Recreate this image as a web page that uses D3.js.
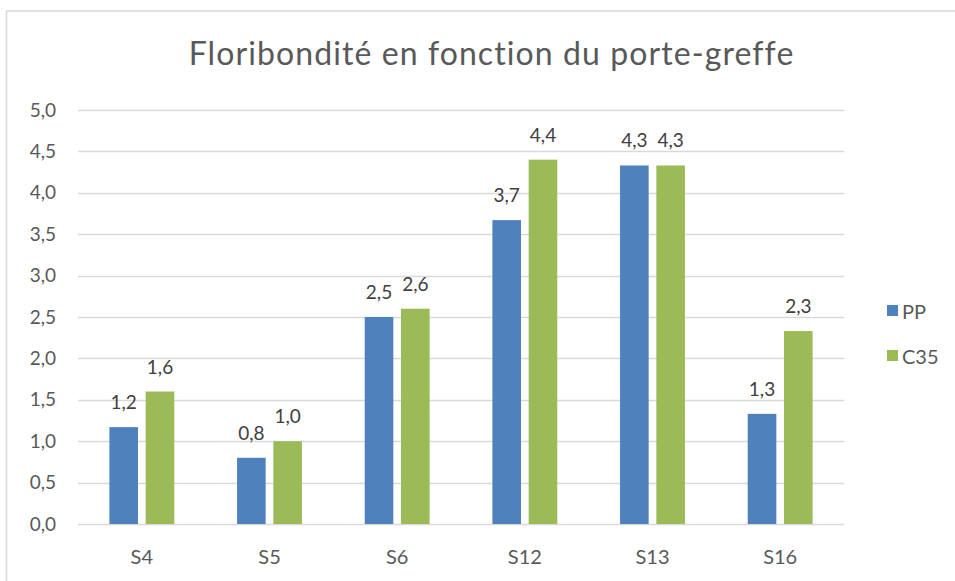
<!DOCTYPE html>
<html><head><meta charset="utf-8">
<script src="https://cdn.jsdelivr.net/npm/d3@7"></script>
<style>
html,body{margin:0;padding:0;background:#fff;}
svg{display:block;font-family:Lato,"Open Sans",sans-serif;}
</style></head>
<body>
<svg id="chart" width="955" height="581"></svg>
<script>
const categories = ["S4","S5","S6","S12","S13","S16"];
const seriesNames = ["PP","C35"];
const valuesPP  = [1.17, 0.8, 2.5, 3.67, 4.33, 1.33];
const valuesC35 = [1.6, 1.0, 2.6, 4.4, 4.33, 2.33];
const yTicks = [0,0.5,1,1.5,2,2.5,3,3.5,4,4.5,5];
const titleText = "Floribondité en fonction du porte-greffe";
const colors = {PP:"#4F81BD", C35:"#9BBB59"};

const svg = d3.select("#chart");
const W = 955, H = 581;
const plot = {left:78, right:844, top:110, bottom:524};
const fmt = v => d3.format(".1f")(v).replace(".", ",");

// frame
svg.append("rect").attr("x",6.5).attr("y",11).attr("width",W+20).attr("height",H+20)
  .attr("fill","#fff").attr("stroke","#D9D9D9").attr("stroke-width",1.5);

const x0 = d3.scaleBand().domain(categories).range([plot.left, plot.right]).padding(0);
const x1 = d3.scaleBand().domain(seriesNames).range([0, x0.bandwidth()]).paddingInner(0.212).paddingOuter(0.865);
const y = d3.scaleLinear().domain([0,5]).range([plot.bottom, plot.top]);

// gridlines
svg.append("g").selectAll("line").data(yTicks).join("line")
  .attr("x1",plot.left).attr("x2",plot.right)
  .attr("y1",d=>Math.round(y(d))+0.5).attr("y2",d=>Math.round(y(d))+0.5)
  .attr("stroke","#D9D9D9").attr("stroke-width",1.3);

// y axis labels
const yAxis = d3.axisLeft(y).tickValues(yTicks).tickSize(0).tickPadding(0).tickFormat(fmt);
const gy = svg.append("g").attr("transform",`translate(56,0)`).call(yAxis);
gy.select(".domain").remove();
gy.selectAll("text").attr("fill","#595959").style("font-size","19px").style("font-family","Lato");

// x axis labels
const xAxis = d3.axisBottom(x0).tickSize(0).tickPadding(0);
const gx = svg.append("g").attr("transform",`translate(0,${plot.bottom})`).call(xAxis);
gx.select(".domain").remove();
gx.selectAll("text").attr("fill","#595959").attr("dy",null).attr("y",40).style("font-size","20px").style("font-family","Lato");

// bars
const data = [];
categories.forEach((c,i)=>{
  data.push({cat:c, s:"PP", v:valuesPP[i]});
  data.push({cat:c, s:"C35", v:valuesC35[i]});
});
svg.append("g").selectAll("rect").data(data).join("rect")
  .attr("x",d=>x0(d.cat)+x1(d.s))
  .attr("width",x1.bandwidth())
  .attr("y",d=>y(d.v))
  .attr("height",d=>y(0)-y(d.v))
  .attr("fill",d=>colors[d.s]);

// data labels
svg.append("g").selectAll("text").data(data).join("text")
  .attr("x",d=>x0(d.cat)+x1(d.s)+x1.bandwidth()/2)
  .attr("y",d=>y(d.v)-18)
  .attr("text-anchor","middle")
  .attr("fill","#404040")
  .style("font-size","19px")
  .text(d=>fmt(d.v));

// title
const t = svg.append("text").attr("x",491).attr("y",65).attr("text-anchor","middle")
  .attr("fill","#595959").style("font-size","32px").text(titleText);
const tw = t.node().getComputedTextLength();
const ls = (604 - tw) / (titleText.length - 1);
if (ls > 0) t.style("letter-spacing", ls.toFixed(2)+"px").attr("x", 491 + ls/2);
else t.style("font-size", (32*604/tw).toFixed(2)+"px");

// legend
const lg = svg.append("g").selectAll("g").data(seriesNames).join("g")
  .attr("transform",(d,i)=>`translate(887,${305+i*45})`);
lg.append("rect").attr("width",11).attr("height",11).attr("fill",d=>colors[d]);
lg.append("text").attr("x",15).attr("y",14).attr("fill","#595959").style("font-size","20px").text(d=>d);
</script>
</body></html>
